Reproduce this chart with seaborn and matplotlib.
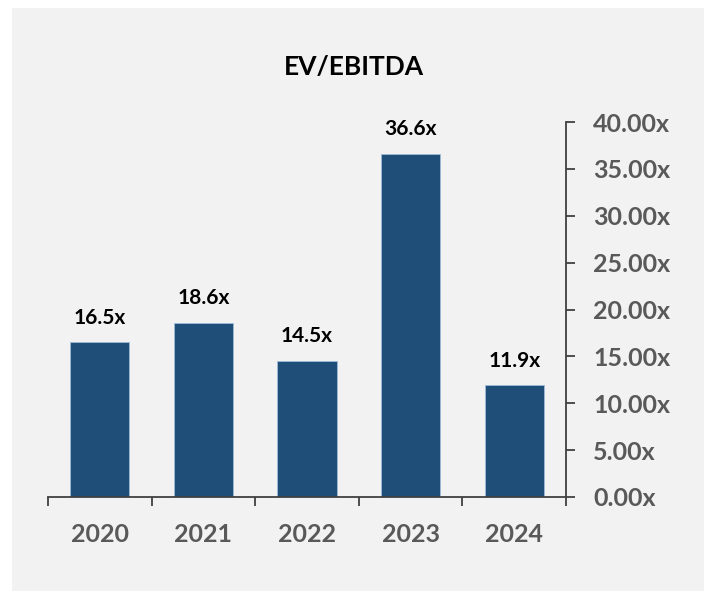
import matplotlib
matplotlib.use("Agg")
import matplotlib.pyplot as plt
import seaborn as sns
import pandas as pd
from matplotlib.patches import Rectangle
from matplotlib.ticker import FuncFormatter, FixedLocator

# data
years = ["2020", "2021", "2022", "2023", "2024"]
ev_ebitda = [16.5, 18.6, 14.5, 36.6, 11.9]
y_ticks = [0, 5, 10, 15, 20, 25, 30, 35, 40]

df = pd.DataFrame({"year": years, "multiple": ev_ebitda})

sns.set_theme(style="white")
plt.rcParams["font.family"] = ["Lato", "DejaVu Sans"]
plt.rcParams["font.weight"] = "bold"

bar_color = "#1f4e79"
axis_color = "#404040"
label_color = "#595959"

fig = plt.figure(figsize=(7.04, 5.91), dpi=100)
fig.patch.set_facecolor("white")
# grey panel behind the chart
fig.patches.append(Rectangle((12 / 704, 0), 1 - 12 / 704, 1 - 8 / 591,
                             transform=fig.transFigure, facecolor="#f2f2f2",
                             edgecolor="none", zorder=-10))

ax = fig.add_axes([48 / 704, 94 / 591, 518 / 704, 375 / 591])
ax.set_facecolor("none")

sns.barplot(data=df, x="year", y="multiple", color=bar_color, width=0.573,
            saturation=1, edgecolor="#9dbbd9", linewidth=0.6, ax=ax)

ax.set_xlim(-0.5, 4.5)
ax.set_ylim(0, 40)
ax.set_xlabel("")
ax.set_ylabel("")

# value labels
for i, v in enumerate(ev_ebitda):
    ax.annotate(f"{v:.1f}x", (i, v), xytext=(0, 13.5), textcoords="offset points",
                ha="center", va="baseline", fontsize=15, fontweight="bold",
                color="black")

# spines
for s in ["top", "left"]:
    ax.spines[s].set_visible(False)
for s in ["bottom", "right"]:
    ax.spines[s].set_color(axis_color)
    ax.spines[s].set_linewidth(1.3)

# y axis on the right
ax.yaxis.tick_right()
ax.set_yticks(y_ticks)
ax.yaxis.set_major_formatter(FuncFormatter(lambda v, p: f"{v:.2f}x"))
ax.tick_params(axis="y", which="major", direction="out", length=6.5, width=1.3,
               color=axis_color, pad=13, labelsize=18, labelcolor=label_color,
               right=True, left=False)

# x axis: labels at categories, ticks between categories
ax.tick_params(axis="x", which="major", length=0, pad=19, labelsize=18,
               labelcolor=label_color)
ax.xaxis.set_minor_locator(FixedLocator([-0.5, 0.5, 1.5, 2.5, 3.5, 4.5]))
ax.tick_params(axis="x", which="minor", direction="out", length=6.5, width=1.3,
               color=axis_color, bottom=True)
for lbl in ax.get_xticklabels() + ax.get_yticklabels():
    lbl.set_fontweight("bold")

fig.text(354 / 704, 1 - 67 / 591, "EV/EBITDA", ha="center", va="center",
         fontsize=19, fontweight="bold", color="black")

fig.savefig("out.png", dpi=100)
